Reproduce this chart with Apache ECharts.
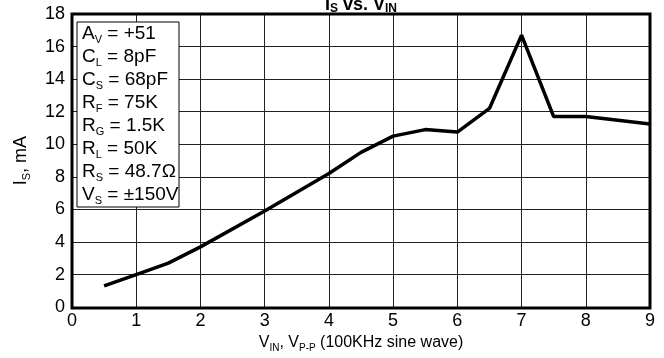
<!DOCTYPE html>
<html>
<head>
<meta charset="utf-8">
<script src="https://cdn.jsdelivr.net/npm/echarts@6/dist/echarts.min.js"></script>
<style>
  html, body { margin: 0; padding: 0; background: #fff; }
  #main { width: 664px; height: 358px; }
</style>
</head>
<body>
<div id="main"></div>
<script>
// 数据
const vin = [0.5, 1, 1.5, 2, 3, 4, 4.5, 5, 5.5, 6, 6.5, 7, 7.5, 8, 9]
const isMa = [1.3, 2.0, 2.7, 3.7, 5.9, 8.2, 9.5, 10.5, 10.9, 10.75, 12.2, 16.7, 11.7, 11.7, 11.25]
const yTicks = [0, 2, 4, 6, 8, 10, 12, 14, 16, 18]
const xTicks = [0, 1, 2, 3, 4, 5, 6, 7, 8, 9]
// 条件框: [主字母, 下标, 其余]
const conds = [
  ['A', 'V', ' = +51'],
  ['C', 'L', ' = 8pF'],
  ['C', 'S', ' = 68pF'],
  ['R', 'F', ' = 75K'],
  ['R', 'G', ' = 1.5K'],
  ['R', 'L', ' = 50K'],
  ['R', 'S', ' = 48.7Ω'],
  ['V', 'S', ' = ±150V'],
]

const font = 'Liberation Sans, Arial, sans-serif'
const G = { left: 72, top: 14, width: 578, height: 294 }

let myChart = echarts.init(document.getElementById('main'))
const condText = conds.map((c) => '{a|' + c[0] + '}{s|' + c[1] + '}{a|' + c[2] + '}').join('\n')

const option = {
  animation: false,
  grid: { left: G.left, top: G.top, width: G.width, height: G.height },
  xAxis: {
    type: 'value',
    min: 0,
    max: 9,
    interval: 1,
    name: '{a|V}{s|IN}{a|, V}{s|P-P}{a| (100KHz sine wave)}',
    nameLocation: 'middle',
    nameGap: 22,
    nameTextStyle: {
      rich: {
        a: { fontSize: 16, lineHeight: 20, fontFamily: font, color: '#000' },
        s: { fontSize: 10, lineHeight: 8, verticalAlign: 'bottom', fontFamily: font, color: '#000' },
      },
    },
    axisLine: { show: false },
    axisTick: { show: false },
    axisLabel: { color: '#000', fontSize: 18, fontFamily: font, margin: 5, formatter: (v) => (xTicks.includes(v) ? String(v) : '') },
    splitLine: { show: true, lineStyle: { color: '#222', width: 1 } },
  },
  yAxis: {
    type: 'value',
    min: 0,
    max: 18,
    interval: 2,
    name: '{a|I}{s|S}{a|, mA}',
    nameLocation: 'middle',
    nameGap: 40,
    nameTextStyle: {
      rich: {
        a: { fontSize: 18, lineHeight: 22, fontFamily: font, color: '#000' },
        s: { fontSize: 11, lineHeight: 8, verticalAlign: 'bottom', fontFamily: font, color: '#000' },
      },
    },
    axisLine: { show: false },
    axisTick: { show: false },
    axisLabel: { color: '#000', fontSize: 18, fontFamily: font, margin: 7, formatter: (v) => (yTicks.includes(v) ? String(v) : '') },
    splitLine: { show: true, lineStyle: { color: '#222', width: 1 } },
  },
  graphic: [
    {
      // 外框
      type: 'rect',
      shape: { x: G.left, y: G.top, width: G.width, height: G.height },
      style: { fill: 'none', stroke: '#000', lineWidth: 3 },
      z: 20,
    },
    {
      type: 'rect',
      shape: { x: 77, y: 22, width: 102, height: 185 },
      style: { fill: '#fff', stroke: '#000', lineWidth: 1 },
      z: 10,
    },
    {
      type: 'text',
      x: 82,
      y: 22,
      z: 11,
      style: {
        text: condText,
        rich: {
          a: { fontSize: 19, lineHeight: 23, fontFamily: font, color: '#000' },
          s: { fontSize: 11, lineHeight: 7, verticalAlign: 'bottom', fontFamily: font, color: '#000' },
        },
      },
    },
    {
      type: 'text',
      x: 361,
      y: -5,
      z: 11,
      style: {
        text: '{a|I}{s|S}{a| vs. V}{s|IN}',
        align: 'center',
        rich: {
          a: { fontSize: 18, fontWeight: 'bold', lineHeight: 20, fontFamily: font, color: '#000' },
          s: { fontSize: 12, fontWeight: 'bold', lineHeight: 10, verticalAlign: 'bottom', fontFamily: font, color: '#000' },
        },
      },
    },
  ],
  series: [
    {
      type: 'line',
      data: vin.map((x, i) => [x, isMa[i]]),
      symbol: 'none',
      lineStyle: { color: '#000', width: 3.5 },
      z: 5,
    },
  ],
}
myChart.setOption(option)
</script>
</body>
</html>
